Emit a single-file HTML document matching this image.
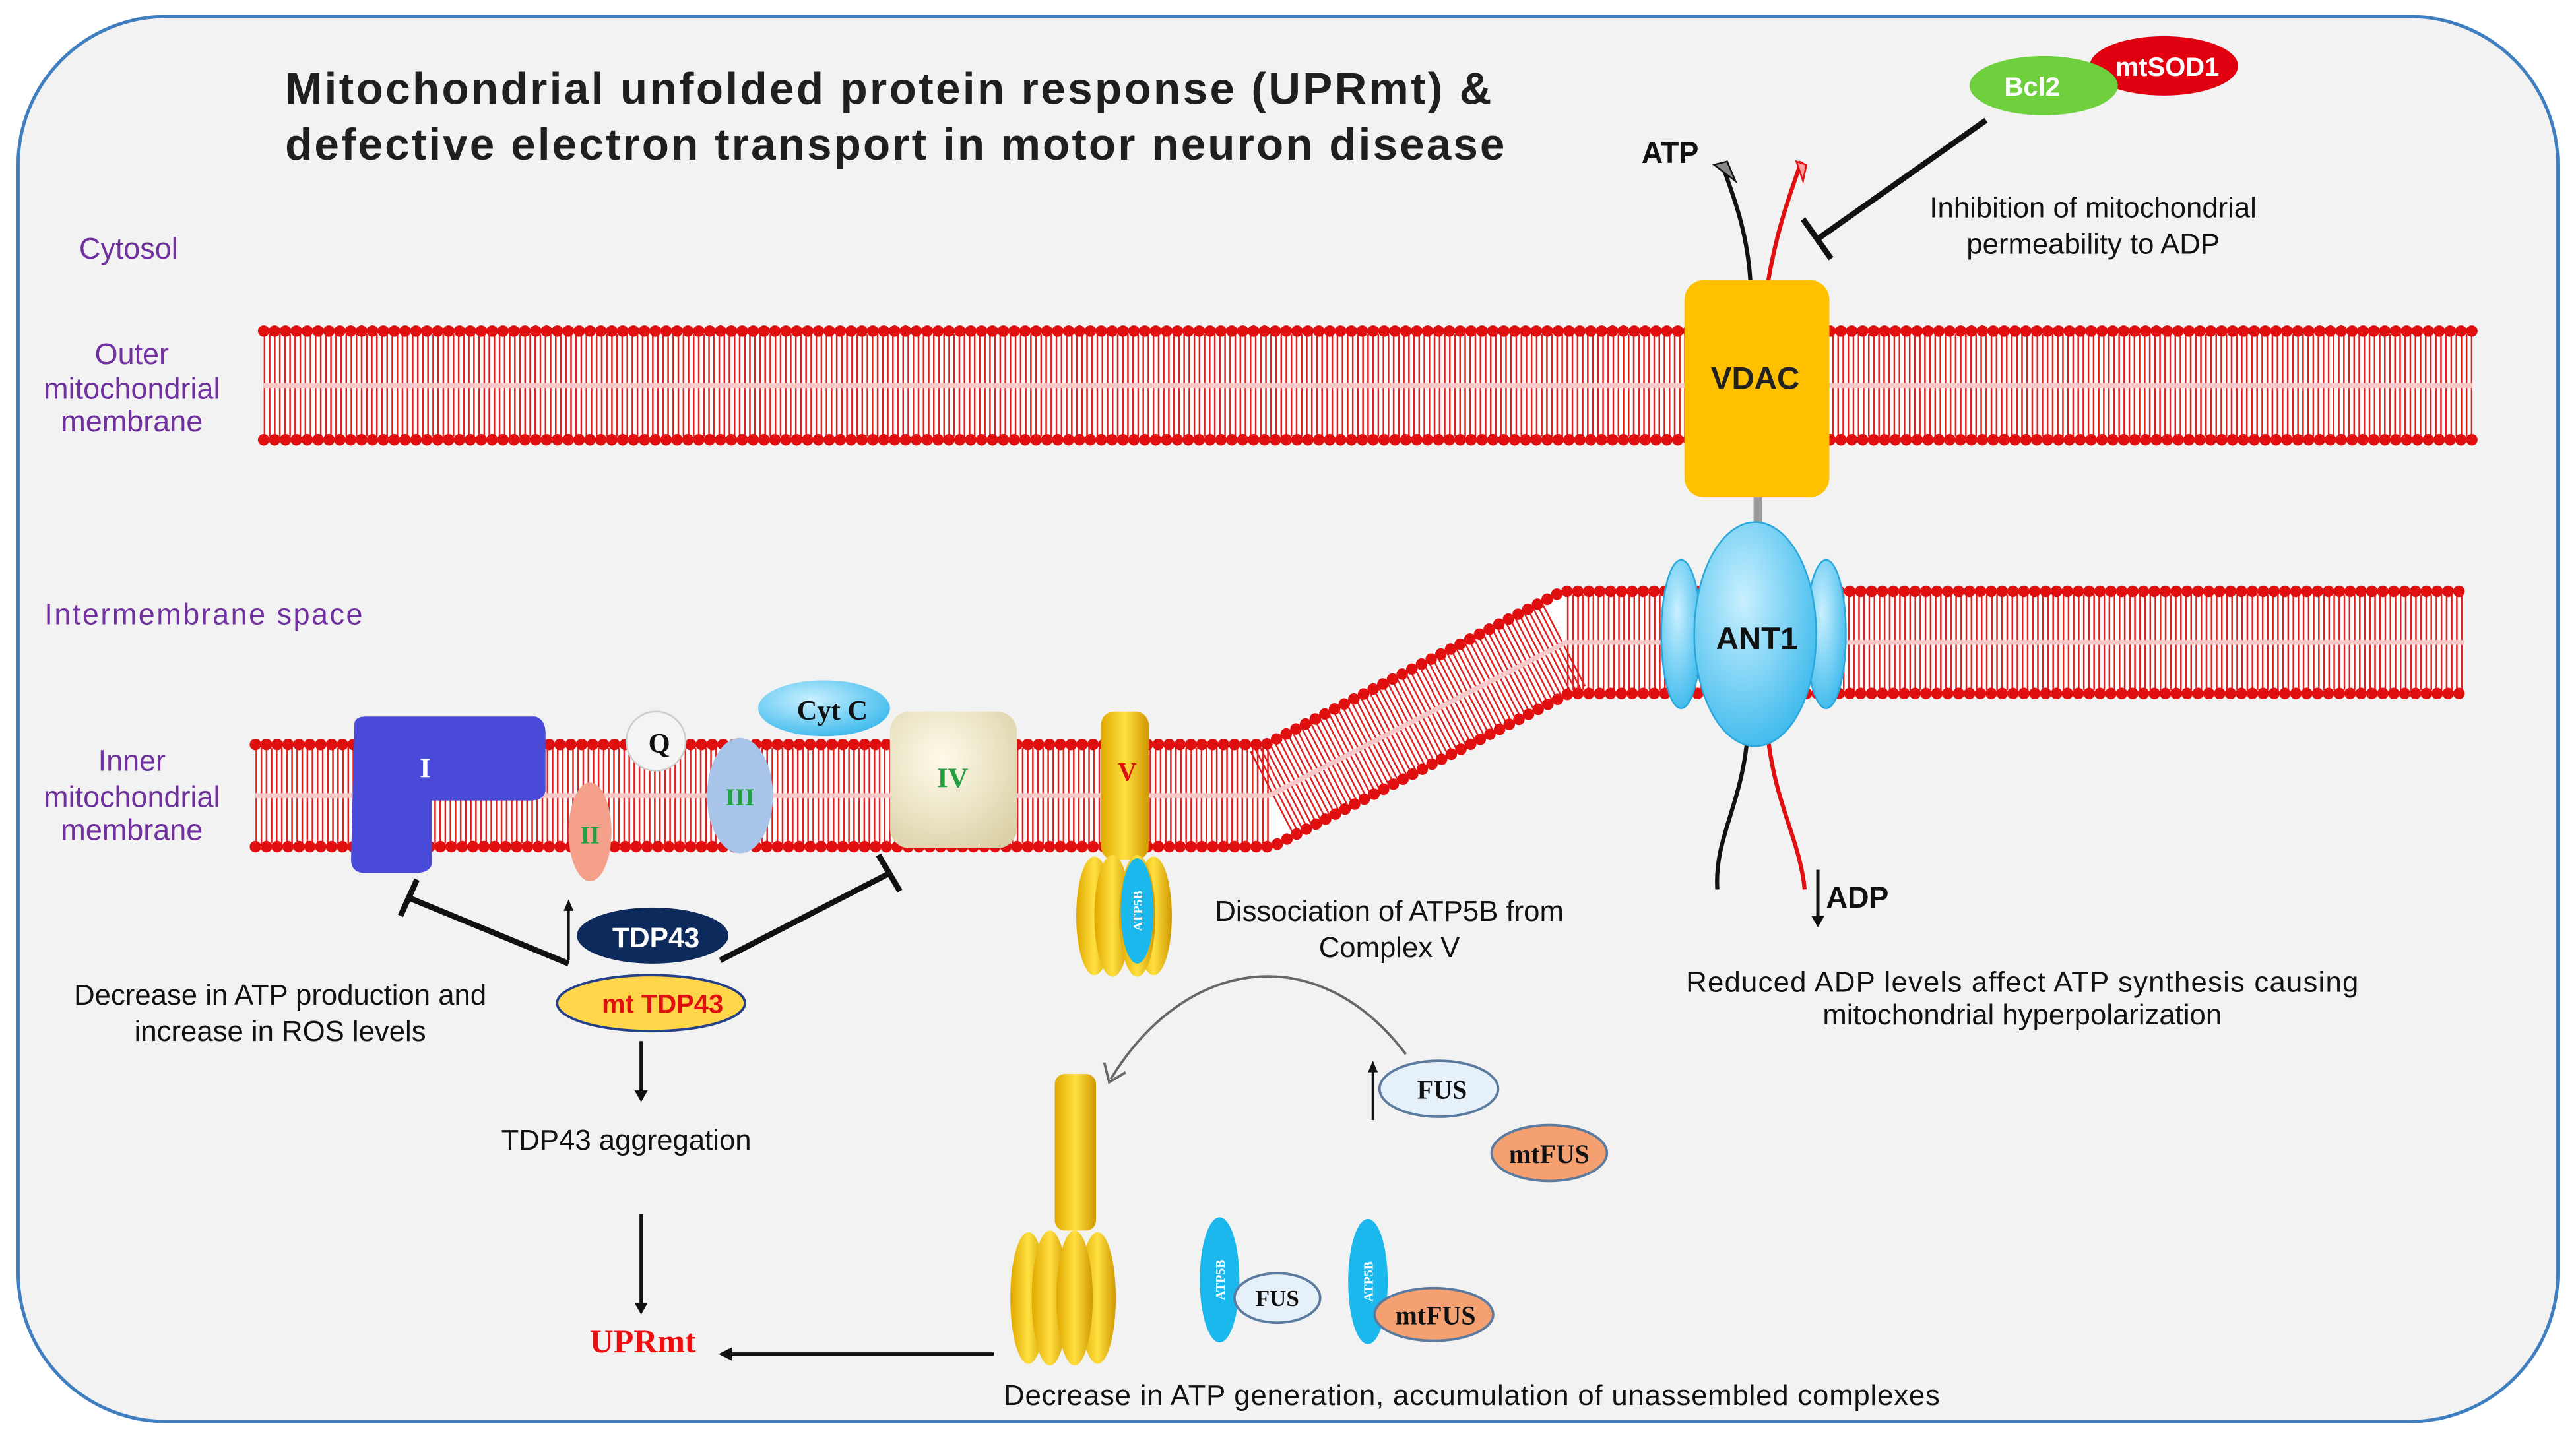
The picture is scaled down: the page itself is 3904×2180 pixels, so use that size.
<!DOCTYPE html>
<html><head><meta charset="utf-8"><style>
html,body{margin:0;padding:0;background:#fff;}
svg{display:block;}
text{font-family:"Liberation Sans",sans-serif;}
.s{font-family:"Liberation Serif",serif;font-weight:bold;}
</style></head><body>
<svg width="3904" height="2180" viewBox="0 0 1563 873" preserveAspectRatio="none" xmlns="http://www.w3.org/2000/svg">
<defs>
<radialGradient id="bl" cx="0.4" cy="0.35" r="0.7"><stop offset="0" stop-color="#c9f0ff"/><stop offset="1" stop-color="#3cb9ec"/></radialGradient>
<linearGradient id="yl" x1="0" x2="1"><stop offset="0" stop-color="#e0a800"/><stop offset="0.5" stop-color="#ffe040"/><stop offset="1" stop-color="#d09800"/></linearGradient>
<radialGradient id="bg4" cx="0.4" cy="0.35" r="0.8"><stop offset="0" stop-color="#fffbea"/><stop offset="1" stop-color="#d9cfa4"/></radialGradient>
</defs>
<rect x="11" y="10" width="1541" height="853" rx="90" fill="#f2f2f2" stroke="#3f7fc0" stroke-width="2"/>
<text x="173" y="63" font-size="27" font-weight="bold" fill="#1f1f1f" textLength="732">Mitochondrial unfolded protein response (UPRmt) &amp;</text>
<text x="173" y="97" font-size="27" font-weight="bold" fill="#1f1f1f" textLength="740">defective electron transport in motor neuron disease</text>
<g fill="#7030a0" font-size="18">
<text x="48" y="157">Cytosol</text>
<text x="80" y="221" text-anchor="middle">Outer</text>
<text x="80" y="242" text-anchor="middle">mitochondrial</text>
<text x="80" y="262" text-anchor="middle">membrane</text>
<text x="27" y="379" textLength="193">Intermembrane space</text>
<text x="80" y="468" text-anchor="middle">Inner</text>
<text x="80" y="490" text-anchor="middle">mitochondrial</text>
<text x="80" y="510" text-anchor="middle">membrane</text>
</g>
<!-- outer membrane -->
<rect x="160" y="200" width="1340" height="68" fill="#fff"/>
<path d="M160 234H1500" stroke="#e02020" stroke-width="62" stroke-dasharray="1 2.1" fill="none"/>
<path d="M160 234H1500" stroke="#f7c8c8" stroke-width="3" fill="none"/>
<path d="M160 201H1500M160 267H1500" stroke="#e01010" stroke-width="7" stroke-linecap="round" stroke-dasharray="0 6.6" fill="none"/>
<!-- inner membrane -->
<path d="M155 483H770L950 390H1495" stroke="#fff" stroke-width="64" fill="none"/>
<path d="M155 483H770L950 390H1495" stroke="#e02020" stroke-width="58" stroke-dasharray="1 2.1" fill="none"/>
<path d="M155 483H770L950 390H1495" stroke="#f7c8c8" stroke-width="3" fill="none"/>
<path d="M155 452H768L948 359H1495M155 514H772L952 421H1495" stroke="#e01010" stroke-width="7" stroke-linecap="round" stroke-dasharray="0 6.6" fill="none"/>
<!-- VDAC / ANT1 -->
<path d="M1062 170C1060 140 1052 120 1045 100" stroke="#111" stroke-width="2.5" fill="none"/>
<path d="M1040 100l8 -2 5 12z" fill="#888" stroke="#111"/>
<path d="M1073 170C1078 140 1086 118 1093 98" stroke="#e01010" stroke-width="2.5" fill="none"/>
<path d="M1090 98l6 2 -2 10z" fill="#f8a0a0" stroke="#e01010"/>
<text x="996" y="99" font-size="18" font-weight="bold" fill="#111">ATP</text>
<rect x="1064" y="300" width="5" height="20" fill="#999"/>
<rect x="1022" y="170" width="88" height="132" rx="12" fill="#ffc000"/>
<text x="1065" y="236" font-size="19" font-weight="bold" fill="#222" text-anchor="middle">VDAC</text>
<path d="M1060 450C1056 490 1040 510 1042 540" stroke="#111" stroke-width="2.5" fill="none"/>
<path d="M1073 450C1078 490 1092 510 1095 540" stroke="#e01010" stroke-width="2.5" fill="none"/>
<ellipse cx="1020" cy="385" rx="12" ry="45" fill="url(#bl)" stroke="#2aa8dc"/>
<ellipse cx="1108" cy="385" rx="12" ry="45" fill="url(#bl)" stroke="#2aa8dc"/>
<ellipse cx="1065" cy="385" rx="37" ry="68" fill="url(#bl)" stroke="#2aa8dc"/>
<text x="1066" y="394" font-size="19" font-weight="bold" fill="#111" text-anchor="middle">ANT1</text>
<path d="M1103 528V560" stroke="#111" stroke-width="2"/><path d="M1099 556l4 7 4-7z" fill="#111"/>
<text x="1108" y="551" font-size="18" font-weight="bold" fill="#111">ADP</text>
<!-- Bcl2 -->
<path d="M1205 73L1103 145" stroke="#111" stroke-width="3.5"/>
<path d="M1094 133L1111 157" stroke="#111" stroke-width="3.5"/>
<ellipse cx="1313" cy="40" rx="45" ry="18" fill="#e00010"/>
<text x="1315" y="46" font-size="16" font-weight="bold" fill="#fff" text-anchor="middle">mtSOD1</text>
<ellipse cx="1240" cy="52" rx="45" ry="18" fill="#6dd03c"/>
<text x="1233" y="58" font-size="16" font-weight="bold" fill="#fff" text-anchor="middle">Bcl2</text>
<g font-size="17.5" fill="#111" text-anchor="middle">
<text x="1270" y="132">Inhibition of mitochondrial</text>
<text x="1270" y="154">permeability to ADP</text>
<text x="1227" y="602" textLength="408">Reduced ADP levels affect ATP synthesis causing</text>
<text x="1227" y="622">mitochondrial hyperpolarization</text>
<text x="170" y="610">Decrease in ATP production and</text>
<text x="170" y="632">increase in ROS levels</text>
<text x="380" y="698">TDP43 aggregation</text>
<text x="843" y="559">Dissociation of ATP5B from</text>
<text x="843" y="581">Complex V</text>
<text x="893" y="853" textLength="568">Decrease in ATP generation, accumulation of unassembled complexes</text>
</g>
<!-- complexes -->
<path d="M215 440Q215 435 222 435H325Q331 437 331 445V480Q330 486 322 486H262V525Q260 530 252 530H220Q213 529 213 522Z" fill="#4a4ad8"/>
<text x="258" y="472" class="s" font-size="17" fill="#fff" text-anchor="middle">I</text>
<ellipse cx="358" cy="505" rx="13" ry="30" fill="#f5a08a"/>
<text x="358" y="512" class="s" font-size="15" fill="#20a040" text-anchor="middle">II</text>
<circle cx="398" cy="450" r="18" fill="#f4f4f4" stroke="#ccc"/>
<text x="400" y="457" class="s" font-size="17" fill="#111" text-anchor="middle">Q</text>
<ellipse cx="449" cy="483" rx="20" ry="35" fill="#a8c4e8"/>
<text x="449" y="489" class="s" font-size="15" fill="#20a040" text-anchor="middle">III</text>
<ellipse cx="500" cy="430" rx="40" ry="17" fill="url(#bl)"/>
<text x="505" y="437" class="s" font-size="17" fill="#111" text-anchor="middle">Cyt C</text>
<rect x="540" y="432" width="77" height="83" rx="12" fill="url(#bg4)"/>
<text x="578" y="478" class="s" font-size="17" fill="#20a040" text-anchor="middle">IV</text>
<rect x="668" y="432" width="29" height="90" rx="8" fill="url(#yl)"/>
<text x="684" y="474" class="s" font-size="16" fill="#e01010" text-anchor="middle">V</text>
<g fill="url(#yl)"><ellipse cx="664" cy="556" rx="11" ry="36"/><ellipse cx="700" cy="556" rx="11" ry="36"/><ellipse cx="675" cy="556" rx="11" ry="37"/><ellipse cx="690" cy="556" rx="11" ry="37"/></g>
<ellipse cx="690" cy="553" rx="10" ry="32" fill="#1ab8ec"/>
<text transform="translate(693,553) rotate(-90)" class="s" font-size="8" fill="#fff" text-anchor="middle">ATP5B</text>
<!-- TDP43 -->
<path d="M345 583V550" stroke="#111" stroke-width="1.5"/><path d="M342 553l3-7 3 7z" fill="#111"/>
<path d="M345 585L248 545" stroke="#111" stroke-width="3.5"/><path d="M243 556L253 534" stroke="#111" stroke-width="3.5"/>
<path d="M437 583L540 530" stroke="#111" stroke-width="3.5"/><path d="M533 519L546 541" stroke="#111" stroke-width="3.5"/>
<ellipse cx="396" cy="568" rx="46" ry="17" fill="#0d2a5c"/>
<text x="398" y="575" font-size="17" font-weight="bold" fill="#fff" text-anchor="middle">TDP43</text>
<ellipse cx="395" cy="609" rx="57" ry="17" fill="#ffd54a" stroke="#24408a" stroke-width="1.5"/>
<text x="402" y="615" font-size="16" font-weight="bold" fill="#e01010" text-anchor="middle">mt TDP43</text>
<path d="M389 632V664" stroke="#111" stroke-width="2"/><path d="M385 662l4 7 4-7z" fill="#111"/>
<path d="M389 737V793" stroke="#111" stroke-width="2"/><path d="M385 791l4 7 4-7z" fill="#111"/>
<text x="390" y="821" class="s" font-size="20" fill="#ee1010" text-anchor="middle">UPRmt</text>
<path d="M603 822H442" stroke="#111" stroke-width="2"/><path d="M444 818l-8 4 8 4z" fill="#111"/>
<!-- curved arrow -->
<path d="M853 640C800 570 720 580 674 655" stroke="#666" stroke-width="1.5" fill="none"/>
<path d="M670 645l3 12 10-6" stroke="#666" stroke-width="1.5" fill="none"/>
<path d="M833 680V648" stroke="#111" stroke-width="1.5"/><path d="M830 651l3-7 3 7z" fill="#111"/>
<ellipse cx="873" cy="661" rx="36" ry="17" fill="#e6f0f8" stroke="#5a7aa0" stroke-width="1.5"/>
<text x="875" y="667" class="s" font-size="16" fill="#111" text-anchor="middle">FUS</text>
<ellipse cx="940" cy="700" rx="35" ry="17" fill="#f4a070" stroke="#5a7aa0" stroke-width="1.5"/>
<text x="940" y="706" class="s" font-size="16" fill="#111" text-anchor="middle">mtFUS</text>
<!-- disassembled V -->
<rect x="640" y="652" width="25" height="95" rx="6" fill="url(#yl)"/>
<g fill="url(#yl)"><ellipse cx="624" cy="788" rx="11" ry="40"/><ellipse cx="666" cy="788" rx="11" ry="40"/><ellipse cx="637" cy="788" rx="11" ry="41"/><ellipse cx="652" cy="788" rx="11" ry="41"/></g>
<ellipse cx="740" cy="777" rx="12" ry="38" fill="#1ab8ec"/>
<text transform="translate(743,777) rotate(-90)" class="s" font-size="8" fill="#fff" text-anchor="middle">ATP5B</text>
<ellipse cx="775" cy="788" rx="26" ry="15" fill="#e6f0f8" stroke="#5a7aa0" stroke-width="1.5"/>
<text x="775" y="793" class="s" font-size="14" fill="#111" text-anchor="middle">FUS</text>
<ellipse cx="830" cy="778" rx="12" ry="38" fill="#1ab8ec"/>
<text transform="translate(833,778) rotate(-90)" class="s" font-size="8" fill="#fff" text-anchor="middle">ATP5B</text>
<ellipse cx="870" cy="798" rx="36" ry="16" fill="#f4a070" stroke="#5a7aa0" stroke-width="1.5"/>
<text x="871" y="804" class="s" font-size="16" fill="#111" text-anchor="middle">mtFUS</text>
</svg>
</body></html>
